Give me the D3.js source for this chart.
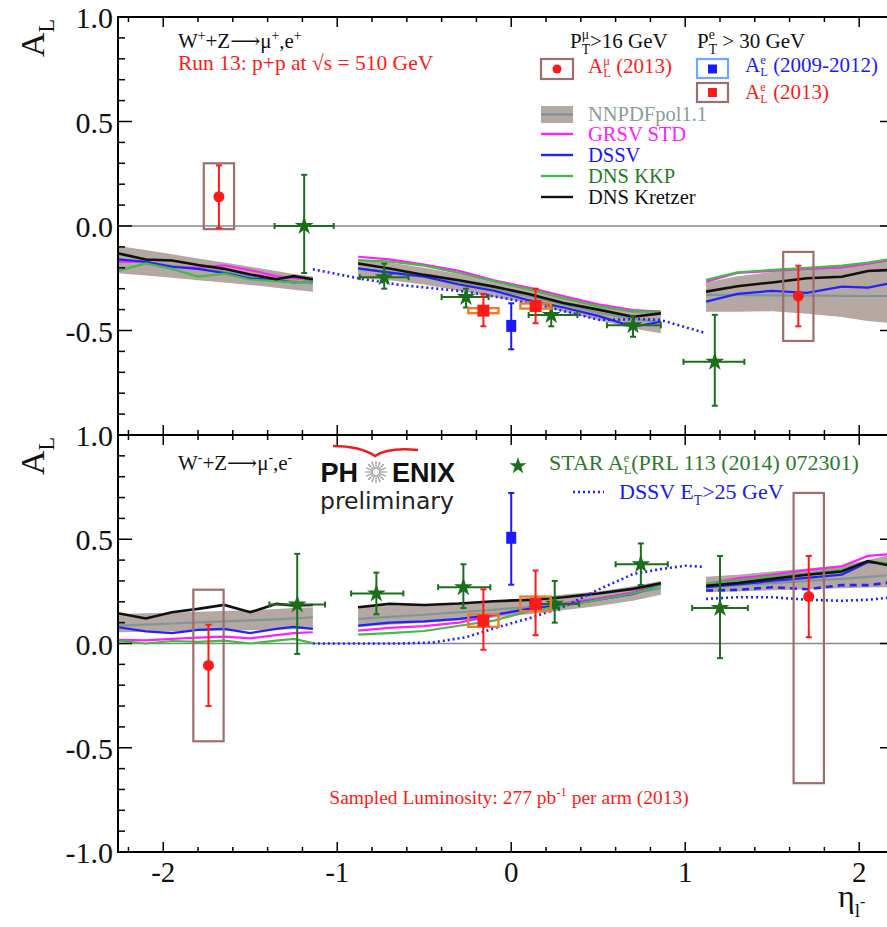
<!DOCTYPE html>
<html>
<head>
<meta charset="utf-8">
<title>PHENIX W A_L</title>
<script src="https://cdn.jsdelivr.net/npm/d3@7"></script>
<style>
  body { margin: 0; background: #fff; }
  svg { display: block; }
</style>
</head>
<body>
<script>
// ---- data ----
// theory grids: three eta segments (left arm / central / right arm)
const segEta = [
  [-2.26, -2.1, -1.95, -1.8, -1.65, -1.5, -1.35, -1.25, -1.14],
  [-0.88, -0.7, -0.5, -0.3, -0.1, 0.1, 0.3, 0.5, 0.7, 0.86],
  [1.12, 1.3, 1.5, 1.7, 1.9, 2.05, 2.2]
];

// W+ panel
const plusBandHi = [[-0.096,-0.115,-0.135,-0.155,-0.175,-0.195,-0.215,-0.23,-0.242],
  [-0.16,-0.175,-0.2,-0.23,-0.27,-0.30,-0.34,-0.38,-0.405,-0.41],
  [-0.27,-0.24,-0.22,-0.205,-0.195,-0.175,-0.16]];
const plusBandLo = [[-0.226,-0.237,-0.248,-0.26,-0.27,-0.282,-0.295,-0.305,-0.314],
  [-0.25,-0.26,-0.28,-0.31,-0.34,-0.37,-0.41,-0.45,-0.49,-0.513],
  [-0.41,-0.41,-0.408,-0.42,-0.435,-0.455,-0.466]];
const plusNNPDF = [[-0.16,-0.175,-0.19,-0.205,-0.22,-0.236,-0.252,-0.265,-0.275],
  [-0.205,-0.22,-0.24,-0.27,-0.305,-0.335,-0.375,-0.415,-0.445,-0.46],
  [-0.33,-0.33,-0.332,-0.333,-0.334,-0.335,-0.335]];
const plusGRSV = [[-0.171,-0.171,-0.195,-0.20,-0.188,-0.211,-0.24,-0.25,-0.255],
  [-0.147,-0.16,-0.185,-0.215,-0.26,-0.295,-0.335,-0.375,-0.402,-0.41],
  [-0.266,-0.225,-0.215,-0.205,-0.198,-0.18,-0.16]];
const plusDSSV = [[-0.16,-0.171,-0.195,-0.205,-0.225,-0.25,-0.26,-0.27,-0.266],
  [-0.203,-0.223,-0.242,-0.28,-0.31,-0.355,-0.39,-0.43,-0.482,-0.458],
  [-0.362,-0.325,-0.31,-0.32,-0.29,-0.295,-0.27]];
const plusKKP = [[-0.215,-0.179,-0.205,-0.242,-0.228,-0.256,-0.264,-0.27,-0.266],
  [-0.163,-0.17,-0.19,-0.225,-0.265,-0.302,-0.345,-0.383,-0.41,-0.41],
  [-0.258,-0.222,-0.21,-0.2,-0.19,-0.175,-0.155]];
const plusKretzer = [[-0.131,-0.16,-0.165,-0.187,-0.205,-0.232,-0.255,-0.24,-0.255],
  [-0.179,-0.203,-0.234,-0.26,-0.29,-0.325,-0.368,-0.40,-0.434,-0.418],
  [-0.314,-0.288,-0.27,-0.25,-0.243,-0.215,-0.21]];
const plusEtEta = [-1.14, -0.88, -0.64, -0.26, -0.01, 0.22, 0.51, 0.75, 0.86, 1.12];
const plusEt    = [-0.207, -0.25, -0.282, -0.314, -0.35, -0.39, -0.45, -0.445, -0.45, -0.513];

// W- panel
const minusBandHi = [[0.142,0.145,0.148,0.152,0.156,0.16,0.165,0.17,0.174],
  [0.174,0.18,0.185,0.195,0.205,0.215,0.235,0.25,0.275,0.30],
  [0.32,0.33,0.345,0.36,0.375,0.40,0.43]];
const minusBandLo = [[0.054,0.056,0.058,0.06,0.062,0.064,0.066,0.068,0.07],
  [0.078,0.09,0.10,0.11,0.125,0.14,0.16,0.18,0.205,0.234],
  [0.246,0.25,0.255,0.26,0.265,0.268,0.27]];
const minusNNPDF = [[0.086,0.091,0.096,0.101,0.106,0.111,0.116,0.12,0.126],
  [0.118,0.128,0.138,0.15,0.162,0.175,0.195,0.215,0.24,0.265],
  [0.27,0.28,0.29,0.30,0.31,0.32,0.33]];
const minusGRSV = [[0.018,0.015,0.022,0.028,0.033,0.025,0.04,0.05,0.054],
  [0.062,0.075,0.083,0.10,0.135,0.165,0.19,0.215,0.245,0.286],
  [0.285,0.313,0.33,0.352,0.37,0.42,0.43]];
const minusDSSV = [[0.078,0.058,0.05,0.065,0.07,0.05,0.07,0.08,0.07],
  [0.086,0.1,0.106,0.118,0.138,0.166,0.183,0.21,0.238,0.282],
  [0.27,0.283,0.30,0.315,0.33,0.39,0.38]];
const minusKKP = [[0.014,0.0,0.012,0.008,0.014,0.0,0.014,0.022,0.002],
  [0.043,0.05,0.06,0.085,0.11,0.155,0.18,0.21,0.24,0.278],
  [0.286,0.303,0.322,0.335,0.355,0.395,0.38]];
const minusKretzer = [[0.145,0.12,0.15,0.166,0.185,0.15,0.19,0.182,0.185],
  [0.174,0.19,0.185,0.192,0.203,0.209,0.222,0.24,0.262,0.289],
  [0.277,0.29,0.31,0.33,0.345,0.395,0.37]];
const minusEtEta = [-1.14, -0.9, -0.65, -0.45, -0.26, -0.07, 0.12, 0.31, 0.51, 0.7, 0.86, 1.0, 1.1];
const minusEt    = [0.0, 0.0, 0.0, 0.005, 0.03, 0.08, 0.125, 0.18, 0.262, 0.333, 0.357, 0.373, 0.368];
const minusEtDashedR = [0.254, 0.257, 0.27, 0.26, 0.28, 0.28, 0.295];
const minusEtDottedR = [0.214, 0.222, 0.222, 0.21, 0.205, 0.21, 0.222];

// PHENIX muons 2013: value, stat, syst box (up/down)
const muPlus  = [{eta: -1.68, A: 0.14, stat: 0.15, sysUp: 0.16, sysDn: 0.155},
                 {eta: 1.65, A: -0.335, stat: 0.145, sysUp: 0.211, sysDn: 0.215}];
const muMinus = [{eta: -1.74, A: -0.105, stat: 0.195, sysUp: 0.363, sysDn: 0.364},
                 {eta: 1.71, A: 0.225, stat: 0.195, sysUp: 0.497, sysDn: 0.895}];
// PHENIX electrons 2013
const e13Plus  = [{eta: -0.16, A: -0.405, statUp: 0.08, statDn: 0.075, sys: 0.012},
                  {eta: 0.14, A: -0.383, statUp: 0.083, statDn: 0.082, sys: 0.012}];
const e13Minus = [{eta: -0.16, A: 0.11, statUp: 0.15, statDn: 0.14, sys: 0.03},
                  {eta: 0.14, A: 0.19, statUp: 0.16, statDn: 0.15, sys: 0.035}];
// PHENIX electrons 2009-2012
const e0912Plus  = [{eta: 0, A: -0.478, statUp: 0.108, statDn: 0.112}];
const e0912Minus = [{eta: 0, A: 0.507, statUp: 0.215, statDn: 0.225}];
// STAR
const starPlus = [
  {eta: -1.19, lo: -1.36, hi: -1.02, A: 0.0, up: 0.245, dn: 0.225},
  {eta: -0.73, lo: -0.87, hi: -0.59, A: -0.245, up: 0.065, dn: 0.055},
  {eta: -0.26, lo: -0.40, hi: -0.13, A: -0.34, up: 0.04, dn: 0.05},
  {eta: 0.23, lo: 0.10, hi: 0.38, A: -0.426, up: 0.046, dn: 0.054},
  {eta: 0.70, lo: 0.55, hi: 0.86, A: -0.475, up: 0.045, dn: 0.055},
  {eta: 1.17, lo: 0.99, hi: 1.34, A: -0.65, up: 0.225, dn: 0.21}
];
const starMinus = [
  {eta: -1.23, lo: -1.39, hi: -1.07, A: 0.187, up: 0.243, dn: 0.237},
  {eta: -0.775, lo: -0.92, hi: -0.62, A: 0.24, up: 0.10, dn: 0.10},
  {eta: -0.275, lo: -0.42, hi: -0.12, A: 0.27, up: 0.11, dn: 0.10},
  {eta: 0.25, lo: 0.11, hi: 0.39, A: 0.19, up: 0.11, dn: 0.09},
  {eta: 0.745, lo: 0.60, hi: 0.90, A: 0.38, up: 0.10, dn: 0.10},
  {eta: 1.2, lo: 1.04, hi: 1.36, A: 0.17, up: 0.25, dn: 0.24}
];

const xMajor = [-2, -1, 0, 1, 2];
const xMinor = d3.range(-22, 23, 2).map(v => v / 10);
const yMajor = [-1, -0.5, 0, 0.5, 1];
const yMinor = d3.range(-10, 11).map(v => v / 10);
const plusYLabels = [1, 0.5, 0, -0.5];
const minusYLabels = [1, 0.5, 0, -0.5, -1];

// ---- drawing ----
const SERIF = "Liberation Serif, Times New Roman, DejaVu Serif, serif";
const C = {
  band: "#b5a7a1", nnpdf: "#7f9696", grsv: "#ff20ff", dssv: "#2222ff",
  kkp: "#44bb44", kretzer: "#111111", star: "#1c6e1c", muBox: "#9e6e6e",
  eBox: "#f07a2a", red: "#ff1a1a", blue: "#1a1aff"
};

const svg = d3.select("body").append("svg").attr("width", 887).attr("height", 927);
const x = d3.scaleLinear().domain([-2.26, 2.2]).range([118, 894]);

function rich(sel, px, py, parts, size, color, anchor) {
  const t = sel.append("text").attr("x", px).attr("y", py)
    .attr("font-family", SERIF).attr("font-size", size).attr("fill", color)
    .attr("text-anchor", anchor || "start");
  let cur = 0, lastW = 0;
  parts.forEach(p => {
    const txt = typeof p === "string" ? p : p[0];
    const shift = typeof p === "string" ? 0 : (p[1] || 0);
    const scale = typeof p === "string" ? 1 : (p[2] || 1);
    const back = typeof p === "string" ? false : !!p[3];
    const s = t.append("tspan").attr("dy", (shift - cur) * size)
      .attr("font-size", size * scale).text(txt);
    if (back) s.attr("dx", -lastW);
    cur = shift;
    lastW = s.node().getComputedTextLength();
  });
  return t;
}

function drawPanel(id, y, th, et, pts, yLabels) {
  const g = svg.append("g");
  const [yb, yt] = y.range();
  g.append("clipPath").attr("id", "clip" + id)
    .append("rect").attr("x", x.range()[0]).attr("y", yt)
    .attr("width", x.range()[1] - x.range()[0]).attr("height", yb - yt);
  const plot = g.append("g").attr("clip-path", "url(#clip" + id + ")");

  plot.append("line").attr("x1", x.range()[0]).attr("x2", x.range()[1])
    .attr("y1", y(0)).attr("y2", y(0)).attr("stroke", "#888").attr("stroke-width", 1.6);

  segEta.forEach((etas, s) => {
    const area = d3.area().x((d, i) => x(etas[i]))
      .y0((d, i) => y(th.bandLo[s][i])).y1(d => y(d));
    plot.append("path").attr("d", area(th.bandHi[s])).attr("fill", C.band);
    const line = d3.line().x((d, i) => x(etas[i])).y(d => y(d));
    [["nnpdf", th.nnpdf], ["grsv", th.grsv], ["dssv", th.dssv], ["kkp", th.kkp], ["kretzer", th.kretzer]]
      .forEach(([k, arr]) => {
        plot.append("path").attr("d", line(arr[s])).attr("fill", "none")
          .attr("stroke", C[k]).attr("stroke-width", k === "kretzer" ? 2.6 : 2.2);
      });
  });

  // DSSV E_T > 25 GeV
  const eline = d3.line().x((d, i) => x(et.eta[i])).y(d => y(d));
  plot.append("path").attr("d", eline(et.vals)).attr("fill", "none")
    .attr("stroke", C.dssv).attr("stroke-width", 2.6).attr("stroke-dasharray", "2,3");
  if (et.dashedR) {
    const rline = d3.line().x((d, i) => x(segEta[2][i])).y(d => y(d));
    plot.append("path").attr("d", rline(et.dashedR)).attr("fill", "none")
      .attr("stroke", C.dssv).attr("stroke-width", 2.6).attr("stroke-dasharray", "7,5");
    plot.append("path").attr("d", rline(et.dottedR)).attr("fill", "none")
      .attr("stroke", C.dssv).attr("stroke-width", 2.6).attr("stroke-dasharray", "2,3");
  }

  const cap = 3;
  function vbar(px, a0, a1, color) {
    plot.append("line").attr("x1", px).attr("x2", px).attr("y1", y(a0)).attr("y2", y(a1))
      .attr("stroke", color).attr("stroke-width", 2);
    [a0, a1].forEach(a => plot.append("line").attr("x1", px - cap).attr("x2", px + cap)
      .attr("y1", y(a)).attr("y2", y(a)).attr("stroke", color).attr("stroke-width", 2));
  }
  function hbar(e0, e1, py, color) {
    plot.append("line").attr("x1", x(e0)).attr("x2", x(e1)).attr("y1", py).attr("y2", py)
      .attr("stroke", color).attr("stroke-width", 2);
    [e0, e1].forEach(e => plot.append("line").attr("x1", x(e)).attr("x2", x(e))
      .attr("y1", py - cap).attr("y2", py + cap).attr("stroke", color).attr("stroke-width", 2));
  }

  // STAR
  pts.star.forEach(d => {
    hbar(d.lo, d.hi, y(d.A), C.star);
    vbar(x(d.eta), d.A - d.dn, d.A + d.up, C.star);
    plot.append("path").attr("d", d3.symbol(d3.symbolStar, 110)())
      .attr("transform", `translate(${x(d.eta)},${y(d.A)})`).attr("fill", C.star);
  });

  // muon boxes + points
  const hw = 0.087;
  pts.mu.forEach(d => {
    plot.append("rect").attr("x", x(d.eta - hw)).attr("width", x(d.eta + hw) - x(d.eta - hw))
      .attr("y", y(d.A + d.sysUp)).attr("height", y(d.A - d.sysDn) - y(d.A + d.sysUp))
      .attr("fill", "none").attr("stroke", C.muBox).attr("stroke-width", 2.2);
    vbar(x(d.eta), d.A - d.stat, d.A + d.stat, C.red);
    plot.append("circle").attr("cx", x(d.eta)).attr("cy", y(d.A)).attr("r", 5.5).attr("fill", C.red);
  });

  // electrons 2009-2012
  pts.e0912.forEach(d => {
    vbar(x(d.eta), d.A - d.statDn, d.A + d.statUp, C.blue);
    plot.append("rect").attr("x", x(d.eta) - 5).attr("y", y(d.A) - 6).attr("width", 10).attr("height", 12)
      .attr("fill", C.blue);
  });

  // electrons 2013
  pts.e13.forEach(d => {
    plot.append("rect").attr("x", x(d.eta - hw)).attr("width", x(d.eta + hw) - x(d.eta - hw))
      .attr("y", y(d.A + d.sys)).attr("height", Math.max(3, y(d.A - d.sys) - y(d.A + d.sys)))
      .attr("fill", "none").attr("stroke", C.eBox).attr("stroke-width", 2.4);
    vbar(x(d.eta), d.A - d.statDn, d.A + d.statUp, C.red);
    plot.append("rect").attr("x", x(d.eta) - 6).attr("y", y(d.A) - 6).attr("width", 12).attr("height", 12)
      .attr("fill", C.red);
  });

  // frame and ticks
  g.append("rect").attr("x", x.range()[0]).attr("y", yt)
    .attr("width", x.range()[1] - x.range()[0]).attr("height", yb - yt)
    .attr("fill", "none").attr("stroke", "#000").attr("stroke-width", 2);
  const tk = g.append("g").attr("stroke", "#000").attr("stroke-width", 1.5);
  xMinor.forEach(v => {
    const len = xMajor.includes(Math.round(v * 10) / 10) ? 10 : 5;
    tk.append("line").attr("x1", x(v)).attr("x2", x(v)).attr("y1", yb).attr("y2", yb - len);
    tk.append("line").attr("x1", x(v)).attr("x2", x(v)).attr("y1", yt).attr("y2", yt + len);
  });
  yMinor.forEach(v => {
    const len = yMajor.includes(v) ? 14 : 7;
    tk.append("line").attr("x1", x.range()[0]).attr("x2", x.range()[0] + len).attr("y1", y(v)).attr("y2", y(v));
    tk.append("line").attr("x1", x.range()[1]).attr("x2", x.range()[1] - len).attr("y1", y(v)).attr("y2", y(v));
  });
  yLabels.forEach(v => {
    g.append("text").attr("x", 113).attr("y", y(v) + 11).attr("text-anchor", "end")
      .attr("font-family", SERIF).attr("font-size", 30).attr("fill", "#111")
      .text(d3.format(".1f")(v).replace("\u2212", "-"));
  });
  rich(g, 0, 0, ["A", ["L", 0.3, 0.65]], 34, "#111", "end")
    .attr("transform", `translate(44,${yt + 2}) rotate(-90)`);
  return g;
}

const yPlus = d3.scaleLinear().domain([-1, 1]).range([435, 17]);
const yMinus = d3.scaleLinear().domain([-1, 1]).range([852, 435]);

drawPanel("p", yPlus,
  {bandLo: plusBandLo, bandHi: plusBandHi, nnpdf: plusNNPDF, grsv: plusGRSV, dssv: plusDSSV, kkp: plusKKP, kretzer: plusKretzer},
  {eta: plusEtEta, vals: plusEt},
  {star: starPlus, mu: muPlus, e0912: e0912Plus, e13: e13Plus}, plusYLabels);
drawPanel("m", yMinus,
  {bandLo: minusBandLo, bandHi: minusBandHi, nnpdf: minusNNPDF, grsv: minusGRSV, dssv: minusDSSV, kkp: minusKKP, kretzer: minusKretzer},
  {eta: minusEtEta, vals: minusEt, dashedR: minusEtDashedR, dottedR: minusEtDottedR},
  {star: starMinus, mu: muMinus, e0912: e0912Minus, e13: e13Minus}, minusYLabels);

// x tick labels and title
xMajor.forEach(v => {
  svg.append("text").attr("x", x(v)).attr("y", 882).attr("text-anchor", "middle")
    .attr("font-family", SERIF).attr("font-size", 29).attr("fill", "#111").text(String(v));
});
rich(svg, 838, 907, ["η", ["l", 0.3, 0.6], ["-", -0.0, 0.5]], 32, "#111");

// ---- annotations, top panel ----
const ann = svg.append("g");
rich(ann, 178, 48, ["W", ["+", -0.4, 0.65], "+Z", "⟶", "μ", ["+", -0.4, 0.65], ",e", ["+", -0.4, 0.65]], 21, "#111");
rich(ann, 178, 70, ["Run 13: p+p at √s = 510 GeV"], 21.5, C.red);

rich(ann, 570, 48, ["P", ["μ", -0.45, 0.65], ["T", 0.3, 0.65, true], ">16 GeV"], 21, "#111");
rich(ann, 697, 48, ["P", ["e", -0.45, 0.65], ["T", 0.3, 0.65, true], " > 30 GeV"], 21, "#111");

ann.append("rect").attr("x", 541).attr("y", 59).attr("width", 32).attr("height", 20)
  .attr("fill", "none").attr("stroke", C.muBox).attr("stroke-width", 2.2);
ann.append("circle").attr("cx", 557).attr("cy", 69).attr("r", 4.5).attr("fill", C.red);
rich(ann, 588, 73, ["A", ["μ", -0.38, 0.6], ["L", 0.2, 0.6, true], " (2013)"], 21, C.red);

ann.append("rect").attr("x", 697).attr("y", 59).attr("width", 31).attr("height", 19)
  .attr("fill", "none").attr("stroke", "#6fa8ff").attr("stroke-width", 2.2);
ann.append("rect").attr("x", 708).attr("y", 64.5).attr("width", 9).attr("height", 9).attr("fill", C.blue);
rich(ann, 745, 72, ["A", ["e", -0.38, 0.6], ["L", 0.2, 0.6, true], " (2009-2012)"], 21, C.blue);

ann.append("rect").attr("x", 697).attr("y", 83).attr("width", 31).attr("height", 19)
  .attr("fill", "none").attr("stroke", C.muBox).attr("stroke-width", 2.2);
ann.append("rect").attr("x", 708).attr("y", 88).attr("width", 9).attr("height", 9).attr("fill", C.red);
rich(ann, 745, 99, ["A", ["e", -0.38, 0.6], ["L", 0.2, 0.6, true], " (2013)"], 21, C.red);

ann.append("rect").attr("x", 541).attr("y", 106).attr("width", 32).attr("height", 17).attr("fill", C.band);
ann.append("line").attr("x1", 541).attr("x2", 573).attr("y1", 114.5).attr("y2", 114.5)
  .attr("stroke", C.nnpdf).attr("stroke-width", 2.5);
rich(ann, 588, 121, ["NNPDFpol1.1"], 20.5, "#8c9c9c");

const legLines = [["GRSV STD", C.grsv, 134], ["DSSV", C.dssv, 155], ["DNS KKP", C.kkp, 176], ["DNS Kretzer", C.kretzer, 197]];
const legText = [C.grsv, "#1a1aee", "#1f7f1f", "#111"];
legLines.forEach(([label, col, ly], i) => {
  ann.append("line").attr("x1", 541).attr("x2", 573).attr("y1", ly).attr("y2", ly)
    .attr("stroke", col).attr("stroke-width", 2.4);
  rich(ann, 588, ly + 7, [label], 20.5, legText[i]);
});

// ---- annotations, bottom panel ----
rich(ann, 178, 470, ["W", ["-", -0.4, 0.65], "+Z", "⟶", "μ", ["-", -0.4, 0.65], ",e", ["-", -0.4, 0.65]], 21, "#111");

// PHENIX preliminary logo
const logo = ann.append("g");
logo.append("path").attr("d", "M333,446 Q360,446 375,456 Q388,447 418,450")
  .attr("fill", "none").attr("stroke", "#ee1c1c").attr("stroke-width", 2.5);
logo.append("text").attr("x", 358).attr("y", 482).attr("text-anchor", "end")
  .attr("font-family", "Liberation Sans, Arial, sans-serif").attr("font-weight", "bold")
  .attr("font-size", 27).attr("fill", "#111").text("PH");
logo.append("text").attr("x", 392).attr("y", 482)
  .attr("font-family", "Liberation Sans, Arial, sans-serif").attr("font-weight", "bold")
  .attr("font-size", 27).attr("fill", "#111").text("ENIX");
d3.range(16).forEach(i => {
  const a = i * Math.PI / 8;
  logo.append("line").attr("x1", 376 + 3 * Math.cos(a)).attr("y1", 472 + 3 * Math.sin(a))
    .attr("x2", 376 + 11 * Math.cos(a)).attr("y2", 472 + 11 * Math.sin(a))
    .attr("stroke", "#999").attr("stroke-width", 1.2);
});
logo.append("text").attr("x", 320).attr("y", 509)
  .attr("font-family", "DejaVu Sans, sans-serif").attr("font-size", 23.5).attr("fill", "#222")
  .text("preliminary");

// STAR / DSSV E_T legend
ann.append("path").attr("d", d3.symbol(d3.symbolStar, 90)())
  .attr("transform", "translate(518,466)").attr("fill", C.star);
rich(ann, 549, 470, ["STAR A", ["e", -0.36, 0.56], ["L", 0.2, 0.56, true], "(PRL 113 (2014) 072301)"], 22, "#2a7a2a");
ann.append("line").attr("x1", 573).attr("x2", 604).attr("y1", 492).attr("y2", 492)
  .attr("stroke", C.dssv).attr("stroke-width", 2.4).attr("stroke-dasharray", "2,3");
rich(ann, 619, 499, ["DSSV E", ["T", 0.25, 0.62], ">25 GeV"], 22, "#1a1aee");

rich(ann, 509, 804, ["Sampled Luminosity: 277 pb", ["-1", -0.4, 0.65], " per arm (2013)"], 19.5, C.red, "middle");
</script>
</body>
</html>
